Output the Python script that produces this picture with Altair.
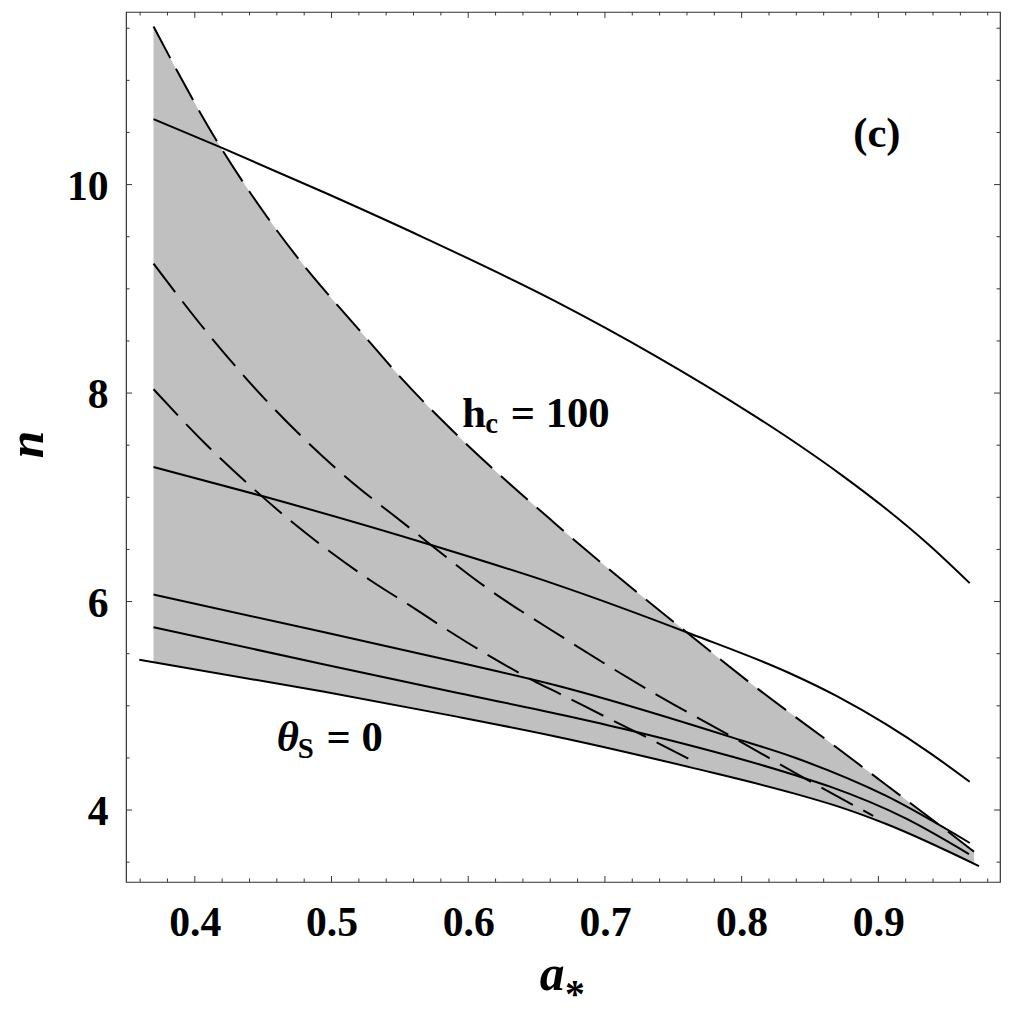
import altair as alt
import pandas as pd

# ---------------- axes ----------------
X_DOMAIN = [0.3497, 0.9890]
Y_DOMAIN = [3.310, 11.656]
X_MAJOR = [0.4, 0.5, 0.6, 0.7, 0.8, 0.9]
X_MINOR = [0.36, 0.38, 0.42, 0.44, 0.46, 0.48, 0.52, 0.54, 0.56, 0.58,
           0.62, 0.64, 0.66, 0.68, 0.72, 0.74, 0.76, 0.78, 0.82, 0.84,
           0.86, 0.88, 0.92, 0.94, 0.96, 0.98]
Y_MAJOR = [4, 6, 8, 10]
Y_MINOR = [3.5, 4.5, 5.0, 5.5, 6.5, 7.0, 7.5, 8.5, 9.0, 9.5, 10.5, 11.0, 11.5]

# ---------------- curves (a*, n) ----------------
# upper dashed boundary of the shaded region (h_c = 100)
TOPDASH_A = [0.3698, 0.4199, 0.4404, 0.4610, 0.4816, 0.5021, 0.5239, 0.5505, 0.5916,
             0.6639, 0.7002, 0.7631, 0.8091, 0.8695, 0.9058, 0.9493, 0.9700]
TOPDASH_N = [11.516, 10.336, 9.924, 9.543, 9.194, 8.877, 8.550, 8.150, 7.600,
             6.745, 6.340, 5.670, 5.190, 4.600, 4.240, 3.810, 3.600]

DASH_A_A = [0.3698, 0.4073, 0.4513, 0.5021, 0.5589, 0.6134, 0.6690, 0.7341, 0.7946, 0.8562, 0.8962]
DASH_A_N = [9.242, 8.608, 7.942, 7.291, 6.688, 6.133, 5.658, 5.134, 4.690, 4.230, 3.945]

DASH_B_A = [0.3698, 0.4090, 0.4440, 0.4707, 0.4985, 0.5275, 0.5578, 0.5856, 0.6170,
            0.6472, 0.6690, 0.7026, 0.7341, 0.7643]
DASH_B_N = [8.037, 7.497, 7.069, 6.767, 6.482, 6.212, 5.958, 5.720, 5.467,
            5.245, 5.102, 4.880, 4.674, 4.470]

SOLID1_A = [0.3698, 0.4199, 0.4948, 0.5674, 0.6639, 0.7365, 0.8091, 0.8381,
            0.8744, 0.9058, 0.9373, 0.9668]
SOLID1_N = [10.628, 10.352, 9.924, 9.492, 8.880, 8.360, 7.784, 7.535,
            7.201, 6.887, 6.540, 6.177]

SOLID2_A = [0.3698, 0.4513, 0.5723, 0.6639, 0.7631, 0.8332, 0.8700, 0.9058, 0.9373, 0.9668]
SOLID2_N = [7.291, 7.005, 6.545, 6.165, 5.689, 5.324, 5.090, 4.821, 4.551, 4.271]

SOLID3_A = [0.3698, 0.4948, 0.5916, 0.6639, 0.7946, 0.8381, 0.9058, 0.9669]
SOLID3_N = [6.067, 5.705, 5.420, 5.197, 4.690, 4.506, 4.135, 3.684]

SOLID4_A = [0.3698, 0.4948, 0.5916, 0.6690, 0.7171, 0.8381, 0.8647, 0.9200, 0.9663]
SOLID4_N = [5.753, 5.397, 5.125, 4.912, 4.768, 4.338, 4.224, 3.920, 3.578]

BOTTOM_A = [0.3594, 0.4948, 0.5916, 0.6639, 0.7655, 0.8381, 0.8720, 0.9058, 0.9736]
BOTTOM_N = [5.442, 5.134, 4.896, 4.706, 4.400, 4.160, 4.028, 3.866, 3.462]

# ---------------- annotations ----------------
ANN_TEXT = ["(c)", "h", "c", "= 100", "S", "= 0", "*"]
ANN_A = [0.8816, 0.5957, 0.6124, 0.6311, 0.4753, 0.4963, 0.6707]
ANN_N = [10.362, 7.671, 7.614, 7.671, 4.499, 4.563, 2.113]
ANN_SIZE = [43, 43, 29, 43, 29, 43, 40]

ITAL_TEXT = ["θ", "a"]
ITAL_A = [0.4600, 0.6523]
ITAL_N = [4.563, 2.2725]
ITAL_SIZE = [43, 50]

YTITLE = "n"
YTITLE_A = 0.2891
YTITLE_N = 7.507

# ---------------- styling ----------------
W, H = 881, 877
FONT = "Liberation Serif"
FRAME = "#333333"
LW = 2.0
DASH = [36, 12]
CURVE = "monotone"

xs = alt.Scale(domain=X_DOMAIN, nice=False, zero=False)
ys = alt.Scale(domain=Y_DOMAIN, nice=False, zero=False)

x_axis = alt.Axis(values=X_MAJOR, format=".1f", labelFont=FONT, labelFontWeight="bold",
                  labelFontSize=42, labelColor="black", labelPadding=21, ticks=False,
                  tickSize=0, domain=False, grid=False, title="", labelFlush=False,
                  labelOverlap=False)
y_axis = alt.Axis(values=Y_MAJOR, format="d", labelFont=FONT, labelFontWeight="bold",
                  labelFontSize=42, labelColor="black", labelPadding=18, labelOffset=2,
                  ticks=False, tickSize=0, domain=False, grid=False, title="",
                  labelFlush=False, labelOverlap=False)

XE = alt.X("a:Q", scale=xs, axis=x_axis)
YE = alt.Y("n:Q", scale=ys, axis=y_axis)


def df_of(a, n, name):
    return pd.DataFrame({"a": a, "n": n, "s": name})


# shaded region: fill under the upper dashed boundary, then mask below the bottom curve
shade = alt.Chart(df_of(TOPDASH_A, TOPDASH_N, "top")).mark_area(
    color="#c0c0c0", interpolate=CURVE
).encode(x=XE, y=YE, y2=alt.datum(3.40))

mask = alt.Chart(df_of(BOTTOM_A, BOTTOM_N, "bottom")).mark_area(
    color="white", interpolate=CURVE
).encode(x=XE, y=YE, y2=alt.datum(3.38))

solid_df = pd.concat([
    df_of(SOLID1_A, SOLID1_N, "s1"),
    df_of(SOLID2_A, SOLID2_N, "s2"),
    df_of(SOLID3_A, SOLID3_N, "s3"),
    df_of(SOLID4_A, SOLID4_N, "s4"),
    df_of(BOTTOM_A, BOTTOM_N, "s5"),
])
dash_df = pd.concat([
    df_of(TOPDASH_A, TOPDASH_N, "d0"),
    df_of(DASH_A_A, DASH_A_N, "d1"),
    df_of(DASH_B_A, DASH_B_N, "d2"),
])

solid = alt.Chart(solid_df).mark_line(
    color="black", strokeWidth=LW, interpolate=CURVE
).encode(x=XE, y=YE, detail="s:N")

dashed = alt.Chart(dash_df).mark_line(
    color="black", strokeWidth=LW, interpolate=CURVE, strokeDash=DASH
).encode(x=XE, y=YE, detail="s:N")


def xticks(values, length):
    d = pd.DataFrame({"a": values})
    b = alt.Chart(d).mark_rule(color=FRAME, strokeWidth=1)
    bottom = b.encode(x=XE, y=alt.value(H), y2=alt.value(H - length))
    top = b.encode(x=XE, y=alt.value(0), y2=alt.value(length))
    return [bottom, top]


def yticks(values, length):
    d = pd.DataFrame({"n": values})
    b = alt.Chart(d).mark_rule(color=FRAME, strokeWidth=1)
    left = b.encode(y=YE, x=alt.value(0), x2=alt.value(length))
    right = b.encode(y=YE, x=alt.value(W), x2=alt.value(W - length))
    return [left, right]


tick_layers = xticks(X_MAJOR, 6) + xticks(X_MINOR, 3.5) + yticks(Y_MAJOR, 6) + yticks(Y_MINOR, 3.5)

ann = alt.Chart(pd.DataFrame({"a": ANN_A, "n": ANN_N, "t": ANN_TEXT, "sz": ANN_SIZE})).mark_text(
    align="left", baseline="alphabetic", font=FONT, fontWeight="bold", color="black"
).encode(
    x=XE, y=YE, text="t:N",
    size=alt.Size("sz:Q", scale=None, legend=None),
)

ital = alt.Chart(pd.DataFrame({"a": ITAL_A, "n": ITAL_N, "t": ITAL_TEXT, "sz": ITAL_SIZE})).mark_text(
    align="left", baseline="alphabetic", font=FONT, fontWeight="bold", fontStyle="italic",
    color="black"
).encode(
    x=XE, y=YE, text="t:N",
    size=alt.Size("sz:Q", scale=None, legend=None),
)

ytitle = alt.Chart(pd.DataFrame({"a": [YTITLE_A], "n": [YTITLE_N], "t": [YTITLE]})).mark_text(
    align="center", baseline="alphabetic", font=FONT, fontWeight="bold", fontStyle="italic",
    fontSize=50, angle=270, color="black"
).encode(x=XE, y=YE, text="t:N")

chart = alt.layer(shade, mask, solid, dashed, *tick_layers, ann, ital, ytitle).properties(
    width=W,
    height=H,
    autosize=alt.AutoSizeParams(type="none"),
    padding={"left": 119, "top": 0, "right": 2, "bottom": 117},
    background="white",
).configure_view(
    stroke=FRAME, strokeWidth=1.2
)

chart.save("out.html", embed_options={"renderer": "svg", "actions": False})
